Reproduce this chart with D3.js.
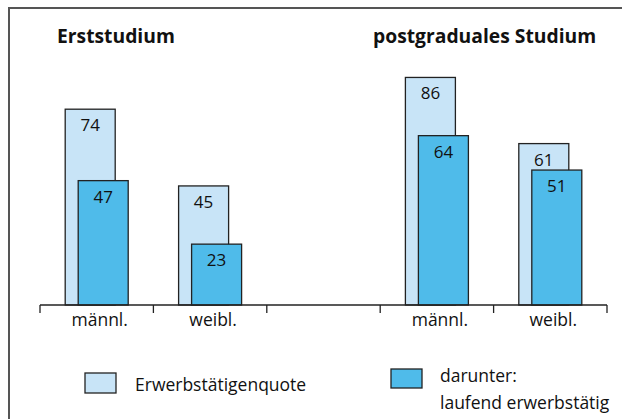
<!DOCTYPE html>
<html lang="de">
<head>
    <meta charset="utf-8">
    <script src="https://d3js.org/d3.v7.min.js"></script>
    <style>
        body { margin: 0; background: #fff; overflow: hidden; }
        svg { display: block; }
        svg text { font-family: "Open Sans", sans-serif; fill: #111; }
    </style>
</head>
<body>
<script>
    // data
    const groups = ["Erststudium", "postgraduales Studium"];
    const slots = ["E-m", "E-w", "gap", "P-m", "P-w"];
    const slotLabels = ["männl.", "weibl.", "", "männl.", "weibl."];
    const barSlots = ["E-m", "E-w", "P-m", "P-w"];
    const quote = [74, 45, 86, 61];      // Erwerbstätigenquote
    const laufend = [47, 23, 64, 51];    // darunter: laufend erwerbstätig
    const legendLabels = ["Erwerbstätigenquote", ["darunter:", "laufend erwerbstätig"]];

    const W = 622, H = 419;
    const light = "#c8e4f7", dark = "#4fbbea";

    const svg = d3.select("body").append("svg")
        .attr("width", W).attr("height", H);

    // frame (runs off the right and bottom edge)
    svg.append("rect")
        .attr("x", 9).attr("y", 8)
        .attr("width", 640).attr("height", 440)
        .attr("fill", "none").attr("stroke", "#555").attr("stroke-width", 2);

    const x = d3.scaleBand().domain(slots).range([40, 607]);
    const y = d3.scaleLinear().domain([0, 100]).range([305, 40.4]);
    const bw = 50, off = 6.5;

    // light bars
    svg.selectAll("rect.q").data(quote).enter().append("rect")
        .attr("class", "q")
        .attr("x", (d, i) => x(barSlots[i]) + x.bandwidth() / 2 - off - bw / 2)
        .attr("y", d => y(d))
        .attr("width", bw)
        .attr("height", d => y(0) - y(d))
        .attr("fill", light).attr("stroke", "#222").attr("stroke-width", 1.3);

    svg.selectAll("text.q").data(quote).enter().append("text")
        .attr("class", "q")
        .attr("x", (d, i) => x(barSlots[i]) + x.bandwidth() / 2 - off)
        .attr("y", d => y(d) + 22)
        .attr("text-anchor", "middle")
        .style("font-size", "17px")
        .text(d => d);

    // dark bars
    svg.selectAll("rect.l").data(laufend).enter().append("rect")
        .attr("class", "l")
        .attr("x", (d, i) => x(barSlots[i]) + x.bandwidth() / 2 + off - bw / 2)
        .attr("y", d => y(d))
        .attr("width", bw)
        .attr("height", d => y(0) - y(d))
        .attr("fill", dark).attr("stroke", "#222").attr("stroke-width", 1.3);

    svg.selectAll("text.l").data(laufend).enter().append("text")
        .attr("class", "l")
        .attr("x", (d, i) => x(barSlots[i]) + x.bandwidth() / 2 + off)
        .attr("y", d => y(d) + 22)
        .attr("text-anchor", "middle")
        .style("font-size", "17px")
        .text(d => d);

    // axis line with ticks at band edges
    const base = y(0);
    svg.append("line")
        .attr("x1", x.range()[0]).attr("x2", x.range()[1])
        .attr("y1", base).attr("y2", base)
        .attr("stroke", "#222").attr("stroke-width", 1.3);
    const edges = slots.map(s => x(s)).concat([x.range()[1]]);
    svg.selectAll("line.tick").data(edges).enter().append("line")
        .attr("class", "tick")
        .attr("x1", d => d).attr("x2", d => d)
        .attr("y1", base).attr("y2", base + 8)
        .attr("stroke", "#222").attr("stroke-width", 1.3);

    svg.selectAll("text.cat").data(slots).enter().append("text")
        .attr("class", "cat")
        .attr("x", d => x(d) + x.bandwidth() / 2 + 3)
        .attr("y", base + 21)
        .attr("text-anchor", "middle")
        .style("font-size", "17.5px")
        .text((d, i) => slotLabels[i]);

    // group titles
    svg.selectAll("text.title").data(groups).enter().append("text")
        .attr("class", "title")
        .attr("x", (d, i) => i === 0 ? 57 : 373)
        .attr("y", 43)
        .style("font-size", "19.3px")
        .style("font-weight", "bold")
        .text(d => d);

    // legend
    svg.append("rect")
        .attr("x", 85).attr("y", 373).attr("width", 31).attr("height", 20)
        .attr("fill", light).attr("stroke", "#222").attr("stroke-width", 1.3);
    svg.append("text")
        .attr("x", 135).attr("y", 391)
        .style("font-size", "17.5px")
        .text(legendLabels[0]);

    svg.append("rect")
        .attr("x", 391).attr("y", 369).attr("width", 31).attr("height", 19)
        .attr("fill", dark).attr("stroke", "#222").attr("stroke-width", 1.3);
    svg.append("text")
        .attr("x", 440).attr("y", 382)
        .style("font-size", "17.5px")
        .text(legendLabels[1][0]);
    svg.append("text")
        .attr("x", 440).attr("y", 409)
        .style("font-size", "17.5px")
        .text(legendLabels[1][1]);
</script>
</body>
</html>
